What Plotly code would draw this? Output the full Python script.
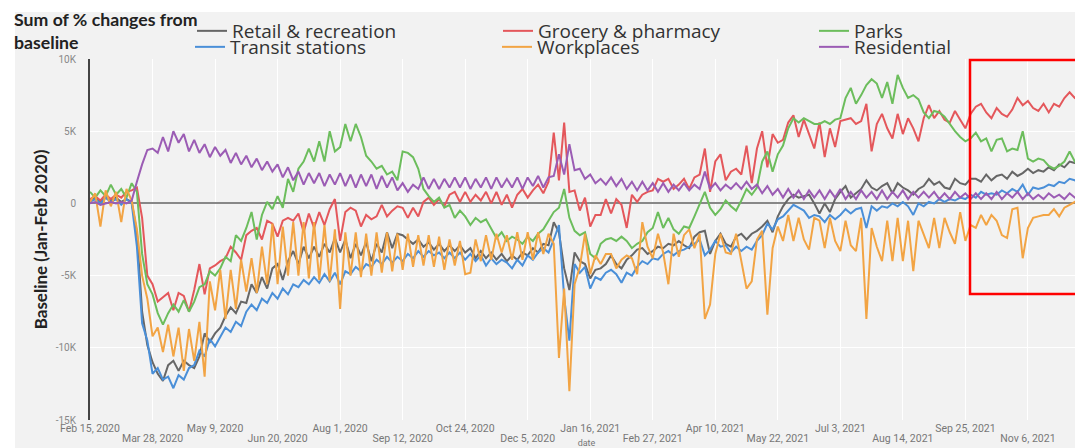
import pandas as pd
import plotly.graph_objects as go

# one sample every 3.5 days from Feb 15, 2020 (values in thousands)
start_date = "2020-02-15"
n_points = 191

retail = [
    0.2, 0.4, 0.1, 0.4, 0.2, 0.4, 0.1, 0.3, 0.1, -2.0,
    -7.5, -9.8, -11.0, -11.8, -12.3, -11.2, -10.9, -11.6, -10.9, -11.2,
    -11.4, -10.6, -9.0, -9.6, -9.0, -8.6, -7.8, -7.2, -7.6, -6.8,
    -6.9, -5.6, -6.2, -5.1, -5.9, -4.5, -4.2, -5.3, -4.0, -3.3,
    -4.2, -3.0, -3.8, -3.0, -3.7, -2.8, -3.4, -2.4, -3.4, -2.5,
    -3.8, -2.8, -3.6, -2.7, -4.0, -2.8, -3.4, -2.0, -3.1, -2.1,
    -2.2, -2.5, -2.8, -2.5, -3.0, -2.7, -3.2, -2.8, -3.3, -2.9,
    -3.3, -2.9, -3.4, -3.1, -3.8, -3.3, -3.8, -3.4, -3.9, -3.5,
    -4.0, -3.6, -3.9, -3.4, -3.6, -3.1, -3.4, -2.8, -2.9, -1.3,
    -2.0, -4.5, -6.0, -3.4, -4.0, -4.2, -5.2, -4.6, -4.5, -4.2,
    -3.6, -4.2, -4.5, -3.9, -3.6, -3.2, -3.1, -3.5, -3.3, -3.0,
    -3.1, -2.8, -2.9, -2.6, -2.9, -3.1, -2.3, -2.0, -1.9, -3.5,
    -2.6, -2.1, -2.8, -3.0, -2.3, -2.1, -2.5, -2.1, -1.9, -1.6,
    -1.2, -2.0, -0.9, -0.2, 0.3, 0.6, 0.4, 0.5, 0.6, 0.0,
    -0.7, 0.0, -0.6, 0.3, 0.8, 1.2, 0.4, 0.7, 1.0, 1.6,
    1.1, 0.9, 1.2, 1.4, 0.7, 1.4, 1.1, 0.9, 0.6, 1.0,
    1.2, 1.7, 1.3, 1.5, 1.1, 1.0, 1.7, 1.4, 1.3, 1.7,
    1.7, 1.5, 2.0, 1.6, 1.9, 2.0, 1.7, 2.2, 1.9, 2.1,
    2.4, 2.1, 2.3, 2.2, 2.5, 2.3, 2.7, 2.5, 2.9, 2.8,
    2.7,
]

grocery = [
    0.3, 0.5, 0.2, 0.6, 0.3, 0.6, 0.4, 0.8, 0.9, 1.1,
    -1.0, -5.0, -5.6, -6.8, -6.5, -6.2, -7.4, -6.2, -6.4, -7.5,
    -6.0, -4.2, -6.3, -4.5, -4.3, -4.0, -3.8, -3.0, -3.4, -3.9,
    -2.2, -1.9, -1.7, -2.5, -1.2, -1.4, -2.3, -1.2, -1.0, -1.2,
    -0.7, -2.0, -0.7, -1.7, -0.6, -1.5, -0.4, 0.3, -2.6, -0.6,
    -0.3, -0.5, -1.6, -0.8, -1.1, -0.9, -0.1, -0.9, -0.5, -0.2,
    -0.3, -1.0, -0.3, -0.9, 0.1, 0.4, -0.1, 0.3, -0.2, 0.6,
    0.8, 0.1, 0.8, 0.1, 0.6, 0.2, 0.8, 0.0, 0.8, -0.1,
    0.6, -0.3, 0.6, 1.0, 0.4, 0.9, 1.3, 0.7, 1.5, 4.9,
    1.6, 5.6, 0.8, 0.9, -0.5, 0.4, -1.6, -0.8, -0.8, 0.3,
    -0.7, 0.3, -0.1, -1.7, 0.6, 0.1, 0.6, 0.8, 0.9, 1.7,
    1.5, 1.7, 1.0, 1.3, 1.7, 1.0, 1.8, 2.0, 3.8, 0.8,
    2.9, 3.4, 1.6, 2.2, 2.4, 2.0, 4.0, 1.4, 3.8, 5.0,
    2.5, 4.8, 4.2, 4.4, 5.6, 6.1, 4.6, 5.8, 4.8, 3.8,
    5.6, 3.2, 5.2, 3.9, 5.7, 5.8, 5.9, 5.5, 5.7, 6.9,
    3.6, 5.5, 6.2, 5.2, 4.5, 6.2, 4.8, 5.9, 5.2, 4.3,
    5.9, 6.8, 5.9, 6.4, 5.8, 5.6, 6.4, 5.8, 5.2, 6.2,
    6.7, 6.9, 6.3, 5.9, 6.6, 6.2, 6.0, 6.5, 7.3, 6.8,
    7.1, 6.6, 6.4, 6.9, 6.3, 6.9, 6.7, 7.3, 7.7, 7.3,
    7.5,
]

parks = [
    0.8, 0.4, 0.9, 0.5, 1.3, 0.6, 1.0, 0.4, 1.4, 0.8,
    -3.5, -5.6, -6.3, -7.6, -8.4, -7.6, -7.0, -7.5, -6.7, -7.5,
    -6.8, -5.8, -5.6, -4.7, -5.0, -4.5, -3.7, -4.0, -2.2, -2.6,
    -1.7, -0.6, -2.5, -0.8, 0.1, -0.4, 0.5, -0.3, 1.7, 0.8,
    2.4, 2.9, 3.8, 2.9, 4.3, 2.9, 5.0, 3.6, 3.9, 5.5,
    4.3, 5.5, 4.6, 3.3, 2.9, 2.4, 2.6, 2.0, 2.2, 1.6,
    3.6, 3.5, 3.2, 2.4, 1.0, 0.5, 0.1, 0.4, -0.3, -0.1,
    -1.0, -0.5, -0.9, -1.5, -1.0, -1.3, -1.1, -1.7, -2.4, -2.0,
    -2.6, -2.3, -2.5, -2.8, -2.3, -2.6, -2.1, -1.8, -1.2, -0.6,
    -0.3, 1.0, -1.0, -1.9, -2.2, -2.0, -3.5, -3.8, -2.8, -2.5,
    -2.4, -2.6, -2.3, -2.6, -3.1, -2.8, -2.6, -2.0, -1.7, -0.6,
    -1.7, -1.0, -1.8, -2.1, -1.6, -1.7, -0.9, -0.1, 0.8, -0.3,
    -0.8, -0.4, 0.2, -0.2, -0.5, 0.2, 1.0, 0.6, 1.1, 2.9,
    3.6, 2.2, 3.4, 4.0, 5.2, 5.9, 5.6, 5.9, 5.7, 5.5,
    5.5, 5.7, 5.5, 5.8, 5.9, 7.3, 8.0, 6.9, 7.5, 8.2,
    8.6, 8.3, 7.3, 8.4, 6.9, 8.9, 8.0, 7.3, 7.5, 7.2,
    6.3, 5.9, 6.4, 6.3, 6.0, 5.5, 5.0, 4.6, 4.3, 4.5,
    4.9, 4.3, 4.5, 3.6, 4.4, 4.5, 3.6, 3.8, 3.7, 5.0,
    3.1, 2.9, 3.1, 3.0, 2.6, 2.4, 2.6, 2.9, 3.6, 2.9,
    2.4,
]

transit = [
    0.1, 0.3, 0.0, 0.4, 0.1, 0.3, -0.1, 0.3, 0.0, -3.0,
    -8.3, -9.5, -11.8, -11.4, -12.2, -12.0, -12.8, -11.9, -12.2, -11.4,
    -11.2, -10.2, -10.6, -9.4, -9.9, -9.3, -8.6, -8.9, -8.2, -8.5,
    -7.5, -7.0, -7.4, -6.6, -6.9, -6.2, -6.6, -5.9, -6.3, -5.6,
    -5.8, -5.3, -5.6, -5.1, -5.5, -4.9, -5.4, -4.8, -5.6, -4.7,
    -4.9, -4.4, -4.7, -4.2, -4.4, -3.9, -4.2, -3.7, -4.1, -3.7,
    -4.0, -3.5, -3.8, -3.3, -3.7, -3.3, -3.6, -3.4, -3.8, -3.4,
    -3.8, -3.4, -3.9, -3.5, -4.0, -3.6, -4.3, -3.8, -4.2, -3.9,
    -4.1, -4.5, -3.9, -4.3, -3.6, -3.9, -3.4, -3.1, -3.4, -2.5,
    -1.5, -6.5, -9.5, -4.2, -4.8, -4.4, -5.9, -5.1, -5.3, -4.8,
    -4.6, -4.9, -5.5, -4.8, -5.0, -4.4, -4.0, -4.2, -3.8, -3.9,
    -3.5, -3.3, -3.6, -3.3, -3.2, -3.0, -2.8, -2.5, -3.6, -3.2,
    -2.6, -3.0, -2.9, -3.4, -3.0, -3.3, -3.0, -3.2, -2.6, -2.2,
    -1.4, -1.8, -1.1, -0.9, -0.5, -0.1, -0.3, -0.5, -1.0, -0.8,
    -0.9, -1.3, -0.8, -1.1, -0.8, -0.4, -0.7, -0.4, -0.3, -1.7,
    -0.2, -0.5, -0.2, -0.3, 0.0, -0.2, 0.1, -0.2, -0.8, 0.0,
    -0.2, 0.1, 0.0, 0.3, 0.1, 0.3, 0.2, 0.4, 0.3, 0.6,
    0.4, 0.8, 0.6, 0.7, 0.6, 0.9, 0.7, 1.0, 0.8, 1.3,
    0.6, 1.1, 1.0, 1.1, 1.3, 1.2, 1.5, 1.4, 1.7, 1.6,
    1.3,
]

workplaces = [
    0.1, 0.7, -1.6, 0.9, -0.2, 0.8, -1.3, 1.0, 0.2, -1.8,
    -5.0, -6.6, -9.2, -8.6, -10.3, -8.4, -10.6, -8.6, -11.6, -8.7,
    -10.9, -8.2, -12.0, -5.4, -7.4, -4.6, -8.0, -4.6, -7.3, -3.9,
    -6.1, -3.8, -6.2, -3.0, -5.6, -1.4, -5.6, -1.6, -5.0, -1.3,
    -5.0, -1.3, -5.2, -1.3, -5.3, -1.5, -5.4, -1.8, -7.3, -2.0,
    -5.0, -2.0, -5.1, -2.1, -5.0, -2.0, -4.8, -2.0, -4.7, -2.1,
    -4.6, -2.1, -4.4, -2.2, -4.3, -2.2, -4.4, -2.3, -4.6, -2.5,
    -4.3, -2.6, -4.9, -4.8, -2.5, -4.0, -2.2, -3.9, -2.1, -3.4,
    -2.2, -3.9, -2.0, -3.9, -2.0, -3.9, -2.0, -3.5, -2.1, -2.8,
    -10.7, -5.9, -13.0, -5.6, -4.4, -2.1, -4.9, -3.6, -4.2, -3.5,
    -3.5, -4.5, -3.9, -3.6, -3.8, -4.9, -1.3, -3.0, -3.8, -2.1,
    -3.4, -5.6, -2.1, -3.7, -2.2, -1.8, -3.1, -2.1, -8.0, -7.0,
    -3.5, -2.1, -3.4, -3.5, -2.1, -3.9, -5.9, -5.4, -2.5, -1.9,
    -7.7, -3.1, -1.6, -2.6, -0.8, -2.6, -1.0, -2.5, -3.2, -1.0,
    -1.2, -3.1, -1.0, -2.6, -3.3, -1.2, -2.9, -3.3, -1.0, -8.0,
    -1.7, -3.0, -4.0, -1.2, -4.0, -1.0, -4.0, -1.2, -4.7, -1.2,
    -2.2, -3.1, -1.0, -3.1, -1.0, -2.0, -2.8, -0.6, -2.6, -1.5,
    -1.7, -0.8, -1.5, -0.8, -1.2, -2.2, -2.4, -0.4, -0.3, -3.8,
    -1.7, -1.0, -0.9, -0.8, -0.8, -0.4, -0.9, -0.3, -0.1, 0.1,
    0.4,
]

residential = [
    0.0, 0.1, -0.1, 0.0, 0.1, 0.0, 0.1, 0.0, 0.2, 1.5,
    2.7, 3.7, 3.8, 3.5, 4.6, 3.6, 5.0, 4.2, 4.8, 3.6,
    4.4, 3.5, 4.1, 3.2, 3.9, 3.3, 3.7, 2.8, 3.5, 2.7,
    3.3, 2.5, 3.1, 2.3, 2.9, 2.2, 2.7, 1.8, 2.5, 1.6,
    2.2, 1.3, 2.1, 1.4, 2.1, 1.2, 2.0, 1.3, 2.1, 1.2,
    2.0, 1.1, 2.0, 1.2, 2.0, 1.0, 1.9, 1.1, 1.8, 0.9,
    1.4, 0.8, 1.3, 1.0, 1.8, 1.0, 1.7, 1.0, 1.7, 1.1,
    1.8, 1.1, 1.8, 1.0, 1.7, 1.1, 1.8, 1.0, 1.8, 1.1,
    1.7, 1.1, 1.8, 1.0, 1.8, 1.2, 1.9, 1.1, 1.8, 1.9,
    3.4, 2.0, 4.1, 2.3, 2.4, 1.7, 2.0, 1.4, 1.7, 1.3,
    1.8, 1.2, 1.7, 1.0, 1.5, 0.9, 1.5, 0.9, 1.4, 0.8,
    1.4, 0.8, 1.3, 0.9, 1.4, 0.9, 1.3, 1.0, 2.2, 1.0,
    1.4, 0.9, 1.3, 1.0, 1.4, 1.0, 1.5, 1.0, 1.3, 0.7,
    1.2, 0.6, 1.0, 0.4, 1.0, 0.4, 0.9, 0.3, 0.9, 0.4,
    0.9, 0.3, 0.9, 0.4, 1.0, 0.3, 0.8, 0.3, 0.9, 0.4,
    0.8, 0.3, 0.9, 0.3, 0.8, 0.4, 0.9, 0.3, 0.8, 0.4,
    0.8, 0.4, 0.8, 0.3, 0.7, 0.3, 0.8, 0.4, 0.7, 0.3,
    0.7, 0.3, 0.7, 0.3, 0.8, 0.3, 0.7, 0.4, 0.8, 0.3,
    0.7, 0.3, 0.6, 0.3, 0.7, 0.4, 0.6, 0.3, 0.7, 0.4,
    0.6,
]

tick_dates = ["2020-02-15", "2020-03-28", "2020-05-09", "2020-06-20",
              "2020-08-01", "2020-09-12", "2020-10-24", "2020-12-05",
              "2021-01-16", "2021-02-27", "2021-04-10", "2021-05-22",
              "2021-07-03", "2021-08-14", "2021-09-25", "2021-11-06"]
tick_labels = ["Feb 15, 2020", "Mar 28, 2020", "May 9, 2020", "Jun 20, 2020",
               "Aug 1, 2020", "Sep 12, 2020", "Oct 24, 2020", "Dec 5, 2020",
               "Jan 16, 2021", "Feb 27, 2021", "Apr 10, 2021", "May 22, 2021",
               "Jul 3, 2021", "Aug 14, 2021", "Sep 25, 2021", "Nov 6, 2021"]
y_ticks = [-15, -10, -5, 0, 5, 10]
y_labels = ["-15K", "-10K", "-5K", "0", "5K", "10K"]

dates = pd.date_range(start_date, periods=n_points, freq="84h")

# the page has an 8px body margin, so the figure is 8px smaller than the window
W, H = 1075, 440

# name, values, colour, legend slot (x px, y px inside the figure)
series = [
    ("Retail & recreation", retail, "#666666", 184, 23),
    ("Grocery & pharmacy", grocery, "#e4575b", 490, 23),
    ("Parks", parks, "#6cbd5c", 806, 23),
    ("Transit stations", transit, "#4a8fd8", 182, 39),
    ("Workplaces", workplaces, "#f2a444", 489, 39),
    ("Residential", residential, "#9b5cb4", 806, 39),
]

fig = go.Figure()
legend_font = dict(family="Open Sans", size=19, color="#333")
for k, (name, vals, col, lx, ly) in enumerate(series):
    leg = "legend" if k == 0 else "legend%d" % (k + 1)
    fig.add_scatter(x=dates, y=vals, name=name, mode="lines",
                    line=dict(color=col, width=2), legend=leg)
    fig.update_layout({leg: dict(x=lx/W, y=1-ly/H, xref="container", yref="container",
                                 orientation="h", xanchor="left", yanchor="middle",
                                 font=legend_font, bgcolor="rgba(0,0,0,0)")})

# empty trace on its own axis pair so the second (lower-row) date labels are drawn
fig.add_scatter(x=[], y=[], xaxis="x2", yaxis="y2", showlegend=False, hoverinfo="skip")

even_text = [t if i % 2 == 0 else "" for i, t in enumerate(tick_labels)]
odd_dates = tick_dates[1::2]
odd_text = tick_labels[1::2]
tick_font = dict(family="Roboto", size=10.5, color="#777")

fig.update_layout(
    width=W, height=H,
    margin=dict(l=82, r=0, t=51, b=28, autoexpand=False),
    paper_bgcolor="white",
    plot_bgcolor="#f2f2f2",
    showlegend=True,
    title=dict(text="<b>Sum of % changes from<br>baseline</b>",
               font=dict(family="Lato", size=17.7, color="#222"),
               x=6/W, xanchor="left", xref="container",
               y=1-18/H, yanchor="top", yref="container"),
    xaxis=dict(
        range=["2020-02-15", "2021-12-13"], type="date",
        tickvals=tick_dates, ticktext=even_text, tickfont=tick_font,
        showgrid=True, gridcolor="white", gridwidth=1,
        zeroline=False, showline=False, ticks="", automargin=False,
        title=dict(text="date", font=dict(family="Roboto", size=9, color="#777")),
    ),
    xaxis2=dict(
        range=["2020-02-15", "2021-12-13"], type="date",
        overlaying="x", side="bottom", anchor="y2",
        tickvals=odd_dates, ticktext=odd_text, tickfont=tick_font,
        ticklabelstandoff=10, showgrid=False, zeroline=False,
        showline=False, ticks="", automargin=False,
    ),
    yaxis=dict(
        range=[-15, 10],
        tickvals=y_ticks, ticktext=y_labels,
        tickfont=dict(family="Roboto", size=10, color="#888"),
        ticklabelstandoff=10,
        showgrid=True, gridcolor="white", gridwidth=1,
        zeroline=True, zerolinecolor="#888", zerolinewidth=2,
        showline=True, linecolor="#444", linewidth=2, ticks="", automargin=True,
        title=dict(text="<b>Baseline (Jan-Feb 2020)</b>",
                   font=dict(family="Lato", size=17, color="#222"), standoff=4),
    ),
    yaxis2=dict(range=[-15, 10], overlaying="y", anchor="x2", visible=False,
                showgrid=False, zeroline=False),
)

# grey page behind the chart
fig.add_shape(type="rect", xref="paper", yref="paper",
              x0=(7-82)/993, x1=1.01, y0=-0.1, y1=(412-4)/361,
              fillcolor="#f2f2f2", line_width=0, layer="below")
# highlight box
fig.add_shape(type="rect", xref="paper", yref="paper",
              x0=(962-82)/993, x1=1.02, y0=(412-286)/361, y1=(412-52)/361,
              line=dict(color="red", width=2.5), fillcolor="rgba(0,0,0,0)")

fig.write_html("out.html")
